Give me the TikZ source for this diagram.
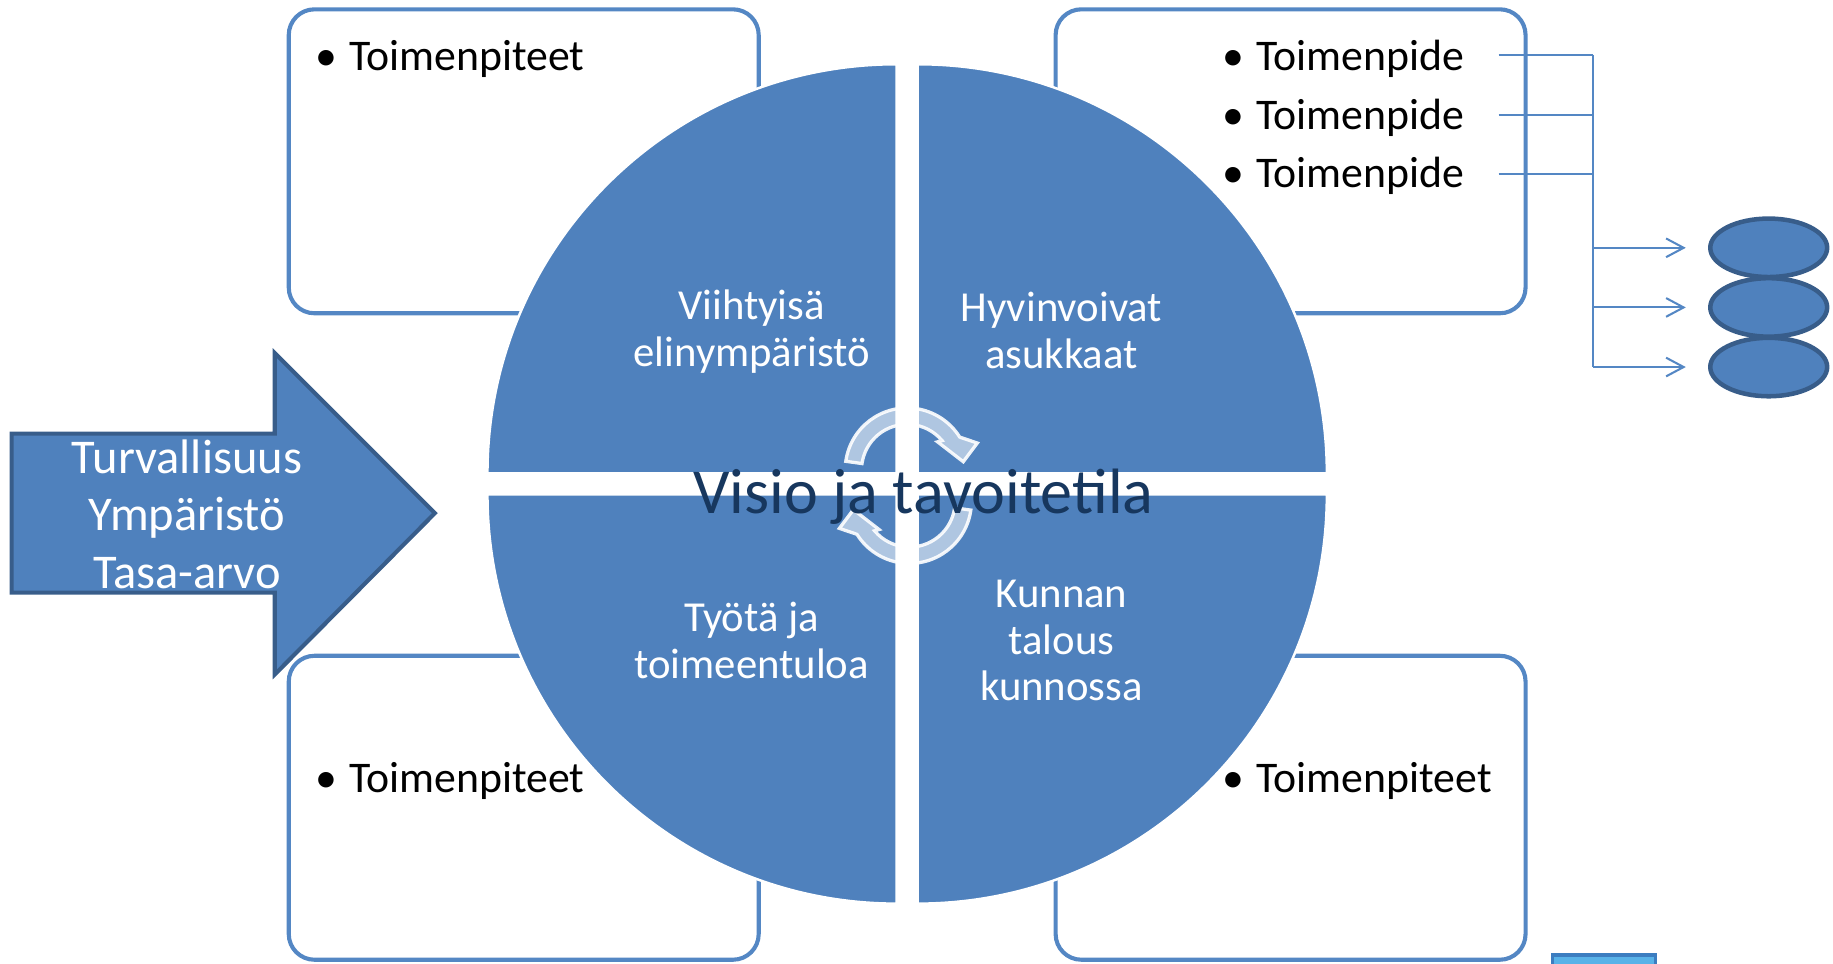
\documentclass[tikz,border=0pt]{standalone}
\usepackage{fontspec}
\setmainfont{Carlito}
\usepackage{xcolor}
\usepackage{tikz}
\definecolor{quadblue}{RGB}{79,129,189}
\definecolor{edgeblue}{RGB}{56,93,138}
\definecolor{boxline}{RGB}{84,135,196}
\definecolor{navytext}{RGB}{23,55,94}
\definecolor{tabblue}{RGB}{88,178,232}
\definecolor{tabedge}{RGB}{60,125,192}
\usetikzlibrary{shapes.geometric, arrows.meta, positioning}

\begin{document}
\begin{tikzpicture}[
    panel/.style={rectangle, draw=boxline, fill=white, line width=1pt, rounded corners=0.22cm, minimum width=4.02cm, minimum height=2.6cm, inner sep=0},
    quad/.style={fill=quadblue, draw=white, line width=0.6pt},
    cyc/.style={fill=white, fill opacity=0.55, draw=white, draw opacity=0.9, line width=0.8pt},
    quadtext/.style={text=white, align=center, font=\fontsize{10.4}{11.4}\selectfont},
    item/.style={anchor=base west, inner sep=0, font=\fontsize{10.65}{12}\selectfont},
    blob/.style={ellipse, fill=quadblue, draw=edgeblue, line width=1.1pt, minimum width=1.0cm, minimum height=0.5cm, inner sep=0},
    link/.style={draw=boxline, line width=0.5pt},
    arrow/.style={link, -{Straight Barb[length=1.5mm, width=1.6mm]}, shorten >=0.19cm}
]
    \clip (0,0) rectangle (15.68,8.24);

    \node[panel] (tl) at (4.48,6.86) {};
    \node[panel] (tr) at (11.04,6.86) {};
    \node[panel] (bl) at (4.48,1.33) {};
    \node[panel] (br) at (11.04,1.33) {};

    \filldraw[quad] (7.67,4.19) -- ++(-3.5,0) arc[start angle=180, end angle=90, radius=3.5] -- cycle;
    \filldraw[quad] (7.85,4.19) -- ++(0,3.5) arc[start angle=90, end angle=0, radius=3.5] -- cycle;
    \filldraw[quad] (7.67,4.01) -- ++(0,-3.5) arc[start angle=270, end angle=180, radius=3.5] -- cycle;
    \filldraw[quad] (7.85,4.01) -- ++(3.5,0) arc[start angle=0, end angle=-90, radius=3.5] -- cycle;

    \begin{scope}[shift={(7.76,4.22)}]
        \filldraw[cyc] (172:0.53) arc[start angle=172, end angle=32, radius=0.53] -- (0.60,0.23) -- (0.48,0.07) -- (0.26,0.24) -- (40:0.39) arc[start angle=40, end angle=172, radius=0.39] -- cycle;
    \end{scope}
    \begin{scope}[shift={(7.78,3.95)}, rotate=180]
        \filldraw[cyc] (172:0.53) arc[start angle=172, end angle=32, radius=0.53] -- (0.60,0.23) -- (0.48,0.07) -- (0.26,0.24) -- (40:0.39) arc[start angle=40, end angle=172, radius=0.39] -- cycle;
    \end{scope}

    \node[quadtext] (q1) at (6.43,5.40) {Viihtyisä\\elinympäristö};
    \node[quadtext] (q2) at (9.08,5.41) {Hyvinvoivat\\asukkaat};
    \node[quadtext] (q3) at (6.43,2.76) {Työtä ja\\toimeentuloa};
    \node[quadtext] (q4) at (9.08,2.76) {Kunnan\\talous\\kunnossa};

    \node[anchor=base, text=navytext, font=\fontsize{15.6}{18}\selectfont] (visio) at (7.90,3.85) {Visio ja tavoitetila};

    \filldraw[fill=quadblue, draw=edgeblue, line width=1pt] (0.10,4.53) -- (2.35,4.53) -- (2.35,5.22) -- (3.72,3.85) -- (2.35,2.47) -- (2.35,3.17) -- (0.10,3.17) -- cycle;
    \node[text=white, align=center, font=\fontsize{11.8}{13.9}\selectfont] (values) at (1.60,3.84) {Turvallisuus\\Ympäristö\\Tasa-arvo};

    \node[item] (a1) at (2.69,7.635) {\makebox[0.29cm][l]{•}Toimenpiteet};
    \node[item] (t1) at (10.45,7.635) {\makebox[0.29cm][l]{•}Toimenpide};
    \node[item] (t2) at (10.45,7.13) {\makebox[0.29cm][l]{•}Toimenpide};
    \node[item] (t3) at (10.45,6.635) {\makebox[0.29cm][l]{•}Toimenpide};
    \node[item] (c1) at (2.69,1.46) {\makebox[0.29cm][l]{•}Toimenpiteet};
    \node[item] (d1) at (10.45,1.46) {\makebox[0.29cm][l]{•}Toimenpiteet};

    \node[blob] (e1) at (15.13,6.12) {};
    \node[blob] (e2) at (15.13,5.61) {};
    \node[blob] (e3) at (15.13,5.10) {};

    \coordinate (s1) at (12.82,7.77);
    \coordinate (s2) at (12.82,7.26);
    \coordinate (s3) at (12.82,6.75);
    \coordinate (j1) at (13.63,7.77);
    \coordinate (j2) at (13.63,7.26);
    \coordinate (j3) at (13.63,6.75);
    \coordinate (j4) at (13.63,6.12);
    \coordinate (j5) at (13.63,5.61);
    \coordinate (j6) at (13.63,5.10);

    \draw[link] (s1) -- (j1);
    \draw[link] (s2) -- (j2);
    \draw[link] (s3) -- (j3);
    \draw[link] (j1) -- (j6);
    \draw[arrow] (j4) -- (e1);
    \draw[arrow] (j5) -- (e2);
    \draw[arrow] (j6) -- (e3);

    \node[rectangle, fill=tabblue, draw=tabedge, line width=0.8pt, minimum width=0.88cm, minimum height=0.54cm, inner sep=0] (tab) at (13.72,-0.2) {};
\end{tikzpicture}
\end{document}
